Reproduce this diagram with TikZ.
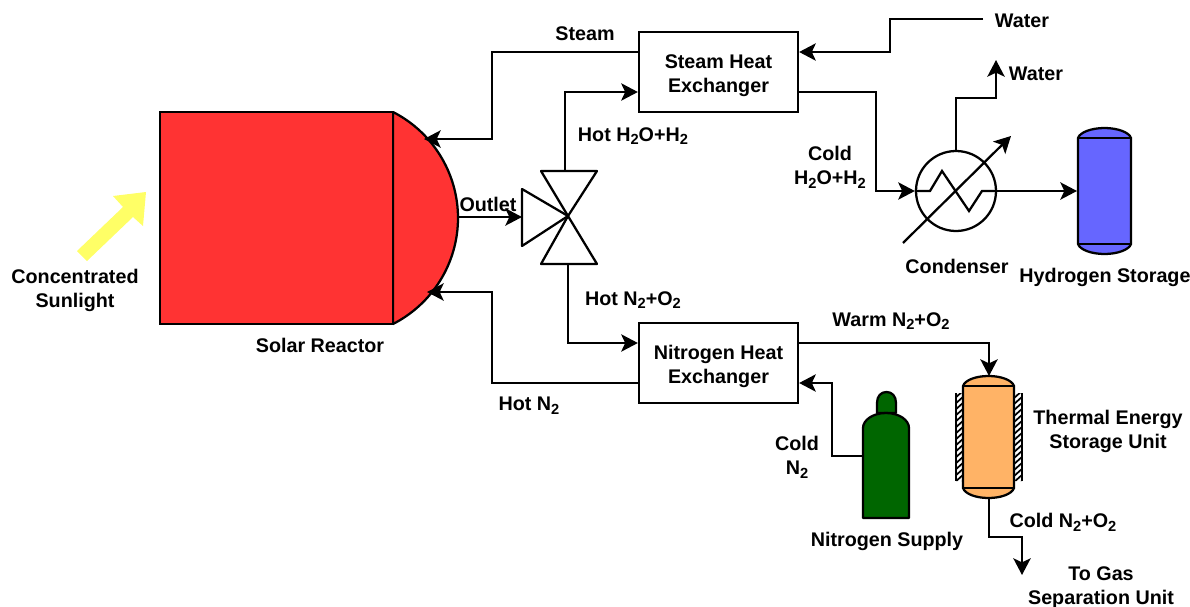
\documentclass[tikz,border=0pt]{standalone}
\usepackage{fontspec}
\setmainfont{Liberation Sans}
\usetikzlibrary{arrows.meta}
\definecolor{reactorred}{HTML}{FF3333}
\definecolor{sunyellow}{HTML}{FFFF66}
\definecolor{hydroblue}{HTML}{6666FF}
\definecolor{thermalorange}{HTML}{FFB366}
\definecolor{nitrogreen}{HTML}{006600}
\tikzset{
  pipe/.style={line width=1.7pt,line join=miter},
  flow/.style={pipe,-{Stealth[length=12.5pt,width=13pt,inset=3pt]}},
  box/.style={draw,line width=1.7pt,fill=white,minimum width=119.25pt,minimum height=60pt,align=center,inner sep=0pt,font=\lab},
  lab/.style={align=center,inner sep=0pt,font=\lab},
  shell/.style={draw,line width=1.7pt,line join=round},
}
\newcommand{\lab}{\fontsize{14.8}{18}\selectfont\bfseries}
\newcommand{\two}{\raisebox{-2.8pt}{\fontsize{11}{11}\selectfont\bfseries 2}}
\begin{document}
\begin{tikzpicture}[x=0.75pt,y=-0.75pt]
\useasboundingbox (0,0) rectangle (1190,607);
% solar reactor
\filldraw[shell,fill=reactorred] (393,112) .. controls (432.8,132.3) and (458,173.3) .. (458,218) .. controls (458,262.7) and (432.8,303.7) .. (393,324) -- cycle;
\node[draw,line width=1.7pt,fill=reactorred,minimum width=174.75pt,minimum height=159pt,inner sep=0pt] (reactor) at (276.5,218) {};
\coordinate (domeUp) at (424,139);
\coordinate (domeLow) at (427,292);
\coordinate (domeTip) at (458,217);
% sunlight arrow
\fill[sunyellow] (77,251) -- (123,207) -- (113,196) -- (146,192) -- (143,226) -- (133,217) -- (87,261) -- cycle;
% valve
\coordinate (vc) at (568,216);
\filldraw[shell,fill=white] (vc) -- (541,171) -- (597,171) -- cycle;
\filldraw[shell,fill=white] (vc) -- (541,264) -- (597,264) -- cycle;
\filldraw[shell,fill=white] (vc) -- (522,189) -- (522,246) -- cycle;
\coordinate (vIn) at (522,217);
\coordinate (vTop) at (565,171);
\coordinate (vBot) at (568,264);
% heat exchangers
\node[box] (shx) at (718.5,72) {\rule{0pt}{16pt}Steam Heat\\Exchanger};
\node[box] (nhx) at (718.5,363) {\rule{0pt}{16pt}Nitrogen Heat\\Exchanger};
% condenser
\node[draw,circle,line width=1.7pt,minimum size=60pt,inner sep=0pt] (cond) at (956,191) {};
\draw[pipe] (cond.west) -- (930,191) -- (942,171) -- (969,211) -- (982,191) -- (cond.east);
\coordinate (diagA) at (903,243);
\coordinate (diagB) at (1011,136);
\draw[flow] (diagA) -- (diagB);
% hydrogen storage
\filldraw[shell,fill=hydroblue] (1078,138) .. controls (1080,132) and (1092,128) .. (1104.5,128) .. controls (1117,128) and (1129,132) .. (1131,138) -- (1131,244) .. controls (1129,250) and (1117,254) .. (1104.5,254) .. controls (1092,254) and (1080,250) .. (1078,244) -- cycle;
\draw[shell] (1078,138) -- (1131,138) (1078,244) -- (1131,244);
\coordinate (h2In) at (1077,191);
% thermal storage
\fill[white] (956,393) rectangle (963,481) (1014,393) rectangle (1022,481);
\begin{scope}
\clip (956,393) rectangle (963,481) (1014,393) rectangle (1022,481);
\foreach \yy in {393,399,...,490} {
  \draw[line width=1.3pt] (954,\yy) -- (964,\yy-9);
  \draw[line width=1.3pt] (1013,\yy) -- (1023,\yy-9);
}
\end{scope}
\draw[line width=1.5pt] (956,393) -- (956,481) (1022,393) -- (1022,481);
\filldraw[shell,fill=thermalorange] (963,386) .. controls (965,380) and (976,376) .. (988.5,376) .. controls (1001,376) and (1012,380) .. (1014,386) -- (1014,488) .. controls (1012,494) and (1001,498) .. (988.5,498) .. controls (976,498) and (965,494) .. (963,488) -- cycle;
\draw[shell] (963,386) -- (1014,386) (963,488) -- (1014,488);
\coordinate (tTop) at (989,376);
\coordinate (tBot) at (989,498);
% nitrogen cylinder
\filldraw[shell,fill=nitrogreen] (877,413) -- (877,403) .. controls (877,396) and (881,392) .. (886.5,392) .. controls (892,392) and (896,396) .. (896,403) -- (896,413) -- cycle;
\filldraw[shell,fill=nitrogreen] (863,518) -- (863,428) .. controls (863,420) and (873,413) .. (886,413) .. controls (899,413) and (909,420) .. (909,428) -- (909,518) -- cycle;
\coordinate (cyl) at (863,456);
% free ends
\coordinate (waterIn) at (983,19);
\coordinate (waterOut) at (996,60);
\coordinate (toGas) at (1022,575);
% connectors
\draw[flow] (waterIn) -- (890,19) -- (890,52) -- ([yshift=15pt]shx.east);
\draw[flow] ([yshift=15pt]shx.west) -- (492,52) -- (492,139) -- (domeUp);
\draw[flow] (vTop) -- (565,92) -- ([yshift=-15pt]shx.west);
\draw[flow] ([yshift=-15pt]shx.east) -- (876,92) -- (876,191) -- (cond.west);
\draw[flow] (cond.north) -- (956,98) -- (996,98) -- (waterOut);
\draw[flow] (cond.east) -- (h2In);
\draw[flow] (domeTip) -- (vIn);
\draw[flow] (vBot) -- (568,343) -- ([yshift=15pt]nhx.west);
\draw[flow] ([yshift=-15pt]nhx.west) -- (492,383) -- (492,292) -- (domeLow);
\draw[flow] ([yshift=15pt]nhx.east) -- (989,343) -- (tTop);
\draw[flow] (cyl) -- (832,456) -- (832,383) -- ([yshift=-15pt]nhx.east);
\draw[flow] (tBot) -- (989,537) -- (1022,537) -- (toGas);
% labels
\node[lab] (lSteam) at (585,34) {Steam};
\node[lab] (lWater1) at (1022,21) {Water};
\node[lab] (lWater2) at (1036,74) {Water};
\node[lab] (lHotH) at (633,136) {Hot H\two O+H\two};
\node[lab] (lColdH) at (830,167.5) {Cold\\H\two O+H\two};
\node[lab] (lOutlet) at (488,204) {Outlet};
\node[lab] (lCond) at (957,266) {Condenser};
\node[lab] (lH2) at (1105,277) {Hydrogen Storage};
\node[lab] (lSun) at (75,290) {Concentrated\\Sunlight};
\node[lab] (lReactor) at (320,345) {Solar Reactor};
\node[lab] (lHotN) at (633,300) {Hot N\two+O\two};
\node[lab] (lWarm) at (891,321) {Warm N\two+O\two};
\node[lab] (lHotNn) at (529,406) {Hot N\two};
\node[lab] (lTherm) at (1108,431) {Thermal Energy\\Storage Unit};
\node[lab] (lColdN) at (797,457) {Cold\\N\two};
\node[lab] (lSupply) at (887,541) {Nitrogen Supply};
\node[lab] (lColdNO) at (1063,522) {Cold N\two+O\two};
\node[lab] (lGas) at (1101,588) {To Gas\\Separation Unit};
\end{tikzpicture}
\end{document}
